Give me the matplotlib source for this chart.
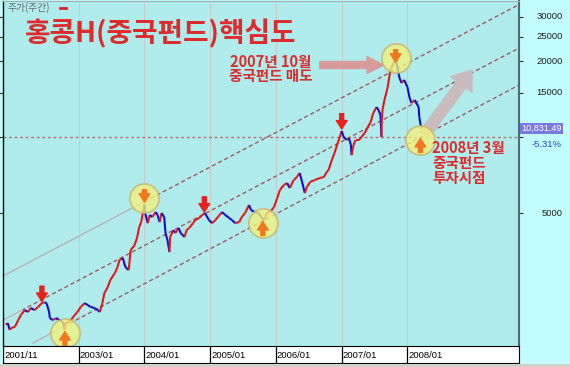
import numpy as np
import matplotlib
matplotlib.use("Agg")
import matplotlib.pyplot as plt
from matplotlib import transforms
from matplotlib.collections import LineCollection
from matplotlib.lines import Line2D
from matplotlib.patches import Rectangle
from matplotlib.ticker import NullLocator

plt.rcParams["font.family"] = ["Noto Sans CJK KR", "DejaVu Sans"]

# H-share index closes (x = decimal year)
dates = [
    2001.89, 2001.92, 2001.95, 2001.97, 2002.03, 2002.08, 2002.12, 2002.18, 2002.23, 2002.27,
    2002.33, 2002.38, 2002.44, 2002.48, 2002.51, 2002.55, 2002.56, 2002.61, 2002.65, 2002.71,
    2002.76, 2002.785, 2002.79, 2002.83, 2002.88, 2002.94, 2002.98, 2003.03, 2003.09, 2003.14,
    2003.18, 2003.24, 2003.29, 2003.32, 2003.36, 2003.39, 2003.44, 2003.48, 2003.55, 2003.59,
    2003.62, 2003.67, 2003.71, 2003.76, 2003.79, 2003.85, 2003.89, 2003.92, 2003.95, 2004.00,
    2004.01, 2004.05, 2004.08, 2004.12, 2004.17, 2004.20, 2004.23, 2004.26, 2004.30, 2004.32,
    2004.35, 2004.38, 2004.39, 2004.44, 2004.47, 2004.52, 2004.55, 2004.61, 2004.64, 2004.68,
    2004.74, 2004.77, 2004.83, 2004.88, 2004.92, 2004.98, 2005.03, 2005.08, 2005.14, 2005.18,
    2005.23, 2005.29, 2005.33, 2005.38, 2005.44, 2005.48, 2005.53, 2005.59, 2005.62, 2005.68,
    2005.73, 2005.79, 2005.82, 2005.86, 2005.91, 2005.97, 2006.02, 2006.06, 2006.12, 2006.17,
    2006.21, 2006.27, 2006.32, 2006.36, 2006.39, 2006.44, 2006.47, 2006.52, 2006.59, 2006.67,
    2006.73, 2006.77, 2006.80, 2006.85, 2006.89, 2006.94, 2006.97, 2007.00, 2007.03, 2007.08,
    2007.11, 2007.14, 2007.15, 2007.18, 2007.21, 2007.26, 2007.30, 2007.35, 2007.39, 2007.44,
    2007.48, 2007.53, 2007.56, 2007.59, 2007.605, 2007.61, 2007.62, 2007.65, 2007.70, 2007.74,
    2007.79, 2007.82, 2007.86, 2007.88, 2007.91, 2007.95, 2008.00, 2008.03, 2008.06, 2008.11,
    2008.17, 2008.18, 2008.21,
]
closes = [
    1800, 1830, 1720, 1745, 1770, 1880, 1970, 2060, 2025, 2100,
    2060, 2120, 2195, 2215, 2195, 2025, 1915, 1880, 1915, 1880,
    1845, 1720, 1830, 1845, 1880, 1970, 2025, 2120, 2195, 2155,
    2120, 2100, 2060, 2025, 2195, 2405, 2540, 2710, 2890, 3050,
    3255, 3315, 3050, 2970, 3565, 3730, 4015, 4400, 4605, 5400,
    5000, 4560, 4910, 4820, 5045, 4910, 4605, 5000, 4820, 4165,
    3905, 3500, 4015, 4280, 4165, 4360, 4165, 4015, 4280, 4360,
    4560, 4690, 4775, 4910, 5000, 4690, 4560, 4690, 4910, 5045,
    4910, 4775, 4690, 4560, 4605, 4820, 5000, 5380, 5140, 5045,
    5000, 4775, 4690, 5000, 5045, 5280, 5735, 6170, 6460, 6575,
    6285, 6760, 6950, 7205, 6760, 6000, 6340, 6640, 6760, 6885,
    6950, 7270, 7405, 8120, 8650, 9480, 10010, 10580, 10010, 9740,
    9920, 9310, 8490, 9310, 9740, 9740, 10010, 10390, 10870, 11480,
    12470, 13170, 12810, 12240, 10010, 11700, 12810, 14040, 15810, 18475,
    19690, 20610, 18140, 17170, 16400, 16860, 15810, 14430, 13660, 14040,
    13170, 12020, 10831,
]

y_ticks = [5000, 10000, 15000, 20000, 25000, 30000]
y_tick_labels = ["5000", "", "15000", "20000", "25000", "30000"]
x_ticks = [2001.848, 2003.0, 2004.0, 2005.0, 2006.0, 2007.0, 2008.0]
x_tick_labels = ["2001/11", "2003/01", "2004/01", "2005/01", "2006/01", "2007/01", "2008/01"]

last_price = "10,831.49"
last_change = "-5.31%"
level_line = 10000

# trend channel: start/end of each line and where the dashed part begins
channel_x0 = [2001.848, 2001.848, 2002.30]
channel_v0 = [2812, 1880, 1525]
channel_x1 = [2009.697, 2009.697, 2009.697]
channel_v1 = [33570, 22580, 16100]
channel_dash_from = [2004.0, 2002.15, 2002.79]

# highlighted turning points
circle_dates = [2002.79, 2004.00, 2005.80, 2007.82, 2008.197]
circle_values = [1671, 5740, 4566, 20620, 9750]
circle_dirs = ["up", "down", "up", "down", "up"]

# red "top" markers
peak_dates = [2002.44, 2004.91, 2007.00]
peak_values = [2230, 5045, 10780]

W, H = 570, 367
RED = "#dd2a2a"
NUM_FONT = ["Liberation Sans", "DejaVu Sans"]


def px_box(x0, y0, x1, y1):
    return [x0 / W, 1 - y1 / H, (x1 - x0) / W, (y1 - y0) / H]


fig = plt.figure(figsize=(W / 100, H / 100), dpi=100, facecolor="#c2fcfc")
ax = fig.add_axes(px_box(3, 1, 519, 346))
band = fig.add_axes(px_box(3, 346, 519, 363))
fig.add_artist(Rectangle((0, 0), 1, 3.5 / H, transform=fig.transFigure,
                         facecolor="#d4d0c8", edgecolor="none"))

ax.set_facecolor("#b0ecec")
ax.set_yscale("log")
ax.set_xlim(x_ticks[0], 2009.697)
ax.set_ylim(1484, 34700)
ax.set_xticks([])
ax.set_yticks(y_ticks)
ax.yaxis.set_minor_locator(NullLocator())
ax.tick_params(axis="y", left=True, right=True, direction="out", length=3,
               width=0.8, labelleft=False, labelright=False, color="#303030")
ax.spines["left"].set_color("black")
ax.spines["left"].set_linewidth(1.0)
ax.spines["right"].set_color("#4a6f6f")
ax.spines["right"].set_linewidth(1.5)
ax.spines["top"].set_color("#a0b0b0")
ax.spines["bottom"].set_visible(False)

for t in x_ticks[1:]:
    ax.axvline(t, color="#c4cccc", lw=0.8, zorder=0.5)

ax.axhline(level_line, color="#b07272", lw=1.0, ls=(0, (2, 2)), zorder=1)

# channel lines: grey solid left part, dashed right part
for x0, v0, x1, v1, xd in zip(channel_x0, channel_v0, channel_x1, channel_v1, channel_dash_from):
    solid, = ax.plot([x0, x1], [v0, v1], color="#bab2b2", lw=1.0, zorder=1)
    dashed, = ax.plot([x0, x1], [v0, v1], color="#a05a5a", lw=1.0,
                      ls=(0, (3, 2)), zorder=1)
    solid.set_clip_path(Rectangle((x0 - 1, 0), xd - x0 + 1, 1,
                                  transform=ax.get_xaxis_transform()))
    dashed.set_clip_path(Rectangle((xd, 0), 20, 1, transform=ax.get_xaxis_transform()))

# price line, red on up moves, blue on down moves
pts = np.column_stack([dates, closes])
segs = np.stack([pts[:-1], pts[1:]], axis=1)
cols = ["#e01818" if b >= a else "#1010c8" for a, b in zip(closes[:-1], closes[1:])]
ax.add_collection(LineCollection(segs, colors=cols, linewidths=1.5, zorder=2))

arrow_style = "simple,head_length=0.55,head_width=0.7,tail_width=0.26"

# big grey arrow (expected rebound)
ax.annotate("", xy=(0.909, 0.800), xycoords="axes fraction",
            xytext=(0.816, 0.612), textcoords="axes fraction",
            arrowprops=dict(arrowstyle="simple,head_length=1.3,head_width=1.9,tail_width=0.8",
                            mutation_scale=10, color="#c8bcbc", shrinkA=0, shrinkB=0),
            zorder=2.5)

# circles at the turning points
ax.scatter(circle_dates, circle_values, s=440, facecolor="#f2f27a", alpha=0.78,
           edgecolor="#c8b470", linewidth=1.3, zorder=3)
for d, v, direction in zip(circle_dates, circle_values, circle_dirs):
    if direction == "up":
        tip = transforms.offset_copy(ax.transData, fig=fig, x=0, y=1, units="points")
        dy = -10
    else:
        tip = transforms.offset_copy(ax.transData, fig=fig, x=0, y=-3, units="points")
        dy = 9
    ax.annotate("", xy=(d, v), xycoords=tip, xytext=(0, dy), textcoords="offset points",
                arrowprops=dict(arrowstyle=arrow_style, mutation_scale=11,
                                color="#f07820", shrinkA=0, shrinkB=0), zorder=4)

for d, v in zip(peak_dates, peak_values):
    ax.annotate("", xy=(d, v), xytext=(0, 11), textcoords="offset points",
                arrowprops=dict(arrowstyle=arrow_style, mutation_scale=11,
                                color="#e82020", shrinkA=0, shrinkB=0), zorder=4)

# pink arrow pointing at the October 2007 top
ax.annotate("", xy=(0.738, 0.8145), xycoords="axes fraction",
            xytext=(0.614, 0.8145), textcoords="axes fraction",
            arrowprops=dict(arrowstyle="simple,head_length=1.2,head_width=1.2,tail_width=0.5",
                            mutation_scale=10, color="#d89a9a", shrinkA=0, shrinkB=0),
            zorder=2.5)

# texts
ax.text(0.306, 0.905, "홍콩H(중국펀드)핵심도", transform=ax.transAxes, ha="center",
        va="center", fontsize=20, fontweight="bold", color=RED)
ax.text(0.008, 0.981, "주가(주간)", transform=ax.transAxes, ha="left", va="center",
        fontsize=7, color="#6a6a6a")
fig.add_artist(Line2D([60 / W, 66 / W], [1 - 8 / H] * 2, color="#e02020", lw=2))

ax.text(0.518, 0.803, "2007년 10월\n중국펀드 매도", transform=ax.transAxes,
        ha="center", va="center", multialignment="center", linespacing=0.88,
        fontsize=10.5, fontweight="bold", color=RED)
ax.text(0.832, 0.530, "2008년 3월\n중국펀드\n투자시점", transform=ax.transAxes,
        ha="left", va="center", multialignment="left", linespacing=0.9,
        fontsize=10.5, fontweight="bold", color=RED)

# right-hand price scale
ytrans = ax.get_yaxis_transform()
for v, lab in zip(y_ticks, y_tick_labels):
    ax.text(1.0853, v, lab, transform=ytrans, ha="right", va="center",
            fontsize=6.8, family=NUM_FONT, color="#202020")
ax.text(1.0045, 10831.49, last_price, transform=ytrans, ha="left", va="center",
        fontsize=6.6, family=NUM_FONT, color="white",
        bbox=dict(boxstyle="square,pad=0.12", facecolor="#7878e0", edgecolor="none"))
ax.text(1.0833, 0.584, last_change, transform=ax.transAxes, ha="right", va="center",
        fontsize=6.8, family=NUM_FONT, color="#2a48c0")

# date band
band.set_facecolor("white")
band.set_xlim(ax.get_xlim())
band.set_ylim(0, 1)
band.set_xticks([])
band.set_yticks([])
for s in band.spines.values():
    s.set_color("black")
    s.set_linewidth(0.8)
lab_trans = transforms.offset_copy(band.get_xaxis_transform(), fig=fig, x=1, y=0, units="dots")
for t, lab in zip(x_ticks, x_tick_labels):
    band.axvline(t, color="black", lw=0.9)
    band.text(t, 0.45, lab, transform=lab_trans, ha="left", va="center",
              fontsize=6.8, family=NUM_FONT, color="black")

fig.savefig("out.png", dpi=100)
